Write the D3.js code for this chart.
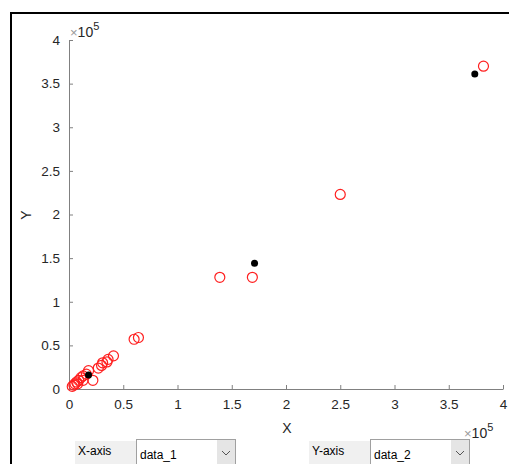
<!DOCTYPE html>
<html>
<head>
<meta charset="utf-8">
<script src="https://cdn.jsdelivr.net/npm/d3@7"></script>
<style>
  body { margin: 0; background: #fff; }
  svg { display: block; font-family: Arial, "Liberation Sans", Helvetica, sans-serif; }
</style>
</head>
<body>
<div id="viz"></div>
<script>
// values in units of 1e5
var redX = [3.82, 2.50, 1.39, 1.69, 0.60, 0.64, 0.41, 0.36, 0.35, 0.31, 0.30, 0.27, 0.22, 0.18,
            0.16, 0.13, 0.11, 0.09, 0.07, 0.055, 0.045, 0.13, 0.08, 0.03];
var redY = [3.70, 2.23, 1.28, 1.28, 0.57, 0.59, 0.38, 0.34, 0.31, 0.30, 0.27, 0.24, 0.10, 0.21,
            0.17, 0.15, 0.13, 0.10, 0.08, 0.06, 0.045, 0.10, 0.06, 0.03];
var blackX = [3.74, 1.71, 0.18];
var blackY = [3.61, 1.44, 0.16];
var ticks = [0, 0.5, 1, 1.5, 2, 2.5, 3, 3.5, 4];

var width = 509, height = 464;
var svg = d3.select('#viz').append('svg').attr('width', width).attr('height', height);

// window frame
svg.append('path').attr('d', 'M11,464V13H509').attr('fill', 'none').attr('stroke', '#000').attr('stroke-width', 2);

var x = d3.scaleLinear().domain([0, 4]).range([69, 503]);
var y = d3.scaleLinear().domain([0, 4]).range([389, 40]);

var fmt = function (d) { return d3.format('~g')(d); };

var xAxis = svg.append('g').attr('transform', 'translate(0,389)')
    .call(d3.axisBottom(x).tickValues(ticks).tickFormat(fmt).tickSizeInner(-4).tickSizeOuter(0).tickPadding(10));
var yAxis = svg.append('g').attr('transform', 'translate(69,0)')
    .call(d3.axisLeft(y).tickValues(ticks).tickFormat(fmt).tickSizeInner(-4).tickSizeOuter(0).tickPadding(9));

[xAxis, yAxis].forEach(function (a) {
    a.select('.domain').attr('stroke', '#808080');
    a.selectAll('.tick line').attr('stroke', '#808080');
    a.selectAll('.tick text').attr('fill', '#262626').style('font-size', '13.5px');
});

svg.append('text').attr('x', 287).attr('y', 433).attr('text-anchor', 'middle')
    .attr('fill', '#262626').style('font-size', '14px').text('X');
svg.append('text').attr('transform', 'translate(31,215) rotate(-90)').attr('text-anchor', 'middle')
    .attr('fill', '#262626').style('font-size', '14px').text('Y');

function expLabel(px, py) {
    var t = svg.append('text').attr('x', px).attr('y', py).attr('fill', '#262626');
    t.append('tspan').attr('fill', '#999').style('font-size', '13px').text('\u00d7');
    t.append('tspan').style('font-size', '14px').text('10');
    t.append('tspan').attr('dy', -7).style('font-size', '11px').text('5');
}
expLabel(70, 37);
expLabel(464, 438);

// points
var red = redX.map(function (d, i) { return { x: d, y: redY[i] }; });
var black = blackX.map(function (d, i) { return { x: d, y: blackY[i] }; });

svg.append('g').selectAll('circle').data(red).enter().append('circle')
    .attr('cx', function (d) { return x(d.x); })
    .attr('cy', function (d) { return y(d.y); })
    .attr('r', 5)
    .attr('fill', 'none')
    .attr('stroke', '#ff2020')
    .attr('stroke-width', 1.2);

svg.append('g').selectAll('circle').data(black).enter().append('circle')
    .attr('cx', function (d) { return x(d.x); })
    .attr('cy', function (d) { return y(d.y); })
    .attr('r', 3.5)
    .attr('fill', '#000');

// dropdown controls
function control(lx, label, value) {
    var g = svg.append('g');
    g.append('rect').attr('x', lx).attr('y', 441).attr('width', 61).attr('height', 23).attr('fill', '#f0f0f0');
    g.append('text').attr('x', lx + 3).attr('y', 455).attr('fill', '#000').style('font-size', '12px').text(label);
    g.append('rect').attr('x', lx + 61.5).attr('y', 439.5).attr('width', 99).attr('height', 30)
        .attr('fill', '#fff').attr('stroke', '#a0a0a0');
    g.append('rect').attr('x', lx + 142).attr('y', 440).attr('width', 18).attr('height', 24).attr('fill', '#e5e5e5');
    g.append('text').attr('x', lx + 65).attr('y', 459).attr('fill', '#000').style('font-size', '12px').text(value);
    g.append('path').attr('d', 'M' + (lx + 147) + ',451l4,4l4,-4').attr('fill', 'none').attr('stroke', '#555');
}
control(75, 'X-axis', 'data_1');
control(309, 'Y-axis', 'data_2');
</script>
</body>
</html>
